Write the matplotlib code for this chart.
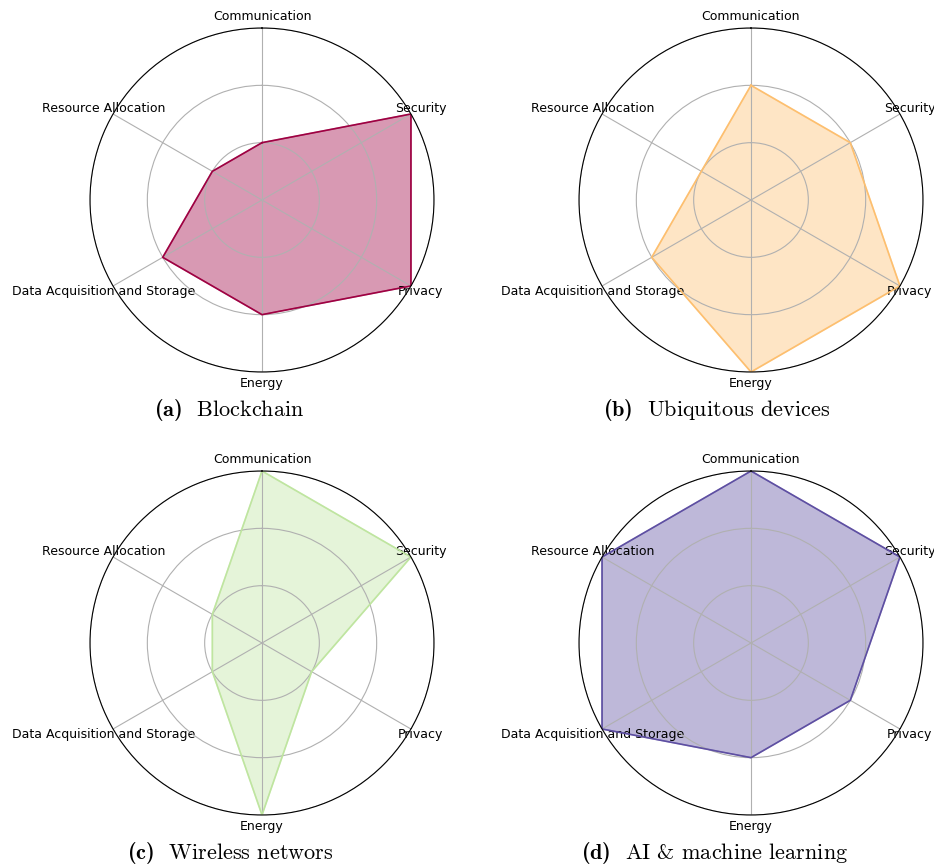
import numpy as np
import matplotlib
matplotlib.use('Agg')
import matplotlib.pyplot as plt

plt.rcParams['mathtext.fontset'] = 'custom'
plt.rcParams['mathtext.rm'] = 'cmr10'
plt.rcParams['mathtext.bf'] = 'cmb10'

categories = ["Communication", "Security", "Privacy", "Energy",
              "Data Acquisition and Storage", "Resource Allocation"]

blockchain = [1, 3, 3, 2, 2, 1]
ubiquitous = [2, 2, 3, 3, 2, 1]
wireless = [3, 3, 1, 3, 1, 1]
ai_ml = [3, 3, 2, 2, 3, 3]

series = [blockchain, ubiquitous, wireless, ai_ml]
captions = [r"$\mathbf{(a)}\ \ \mathrm{Blockchain}$",
            r"$\mathbf{(b)}\ \ \mathrm{Ubiquitous\ devices}$",
            r"$\mathbf{(c)}\ \ \mathrm{Wireless\ networs}$",
            r"$\mathbf{(d)}\ \ \mathrm{AI\ &\ machine\ learning}$"]

colors = plt.cm.Spectral(np.linspace(0, 1, 4))

W, H = 934, 868
fig = plt.figure(figsize=(W / 100, H / 100), dpi=100)

centers = [(262, 200), (751, 200), (262, 643), (751, 643)]
caption_pos = [(229, 416), (717, 416), (230, 859), (715, 859)]
R = 172

angles = np.linspace(0, 2 * np.pi, len(categories), endpoint=False)

for vals, col, (cx, cy), cap, (tx, ty) in zip(series, colors, centers, captions, caption_pos):
    ax = fig.add_axes([(cx - R) / W, 1 - (cy + R) / H, 2 * R / W, 2 * R / H], polar=True)
    ax.set_theta_offset(np.pi / 2)
    ax.set_theta_direction(-1)
    v = np.concatenate([vals, vals[:1]])
    a = np.concatenate([angles, angles[:1]])
    ax.plot(a, v, color=col, linewidth=1.2)
    ax.fill(a, v, color=col, alpha=0.4)
    ax.set_xticks(angles)
    ax.set_xticklabels(categories, fontsize=9)
    ax.set_ylim(0, 3)
    ax.set_yticks([1, 2, 3])
    ax.set_yticklabels([])
    ax.grid(True, color='#b0b0b0', linewidth=0.8)
    ax.tick_params(axis='x', pad=-2.5)
    fig.text(tx / W, 1 - ty / H, cap, ha='center', va='baseline', fontsize=16)

fig.savefig("out.png", dpi=100)
